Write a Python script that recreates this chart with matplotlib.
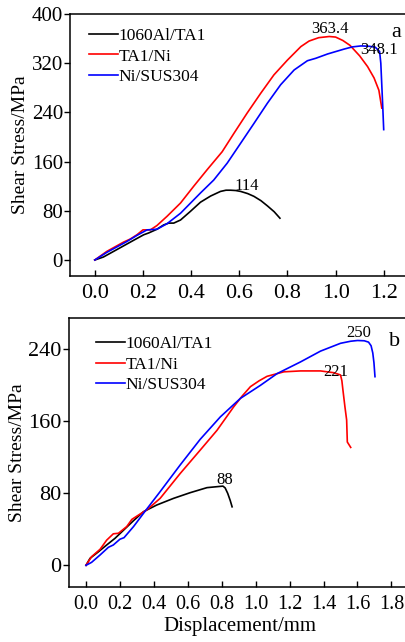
import matplotlib
matplotlib.use("Agg")
import matplotlib.pyplot as plt

plt.rcParams['font.family'] = ['Liberation Serif', 'DejaVu Serif']

labels = ["1060Al/TA1", "TA1/Ni", "Ni/SUS304"]
colors = ["black", "red", "blue"]

# Panel a data (displacement mm, shear stress MPa)
a_al_x = [0, 0.036, 0.092, 0.161, 0.203, 0.224, 0.258, 0.286, 0.307, 0.328, 0.356, 0.397, 0.439, 0.481, 0.522, 0.545, 0.564, 0.585, 0.606, 0.635, 0.661, 0.69, 0.717, 0.745, 0.769]
a_al_y = [0, 4.9, 17, 32, 41, 44, 50, 57, 60, 60, 65, 79, 94, 104, 111.5, 113.5, 113.5, 113, 111.5, 108, 103.5, 96.5, 88, 78.5, 68]
a_ni_x = [0, 0.05, 0.119, 0.147, 0.175, 0.2, 0.231, 0.258, 0.3, 0.356, 0.411, 0.467, 0.529, 0.578, 0.633, 0.689, 0.744, 0.8, 0.856, 0.89, 0.93, 0.974, 1.0, 1.03, 1.06, 1.1, 1.133, 1.16, 1.18, 1.192]
a_ni_y = [0, 14, 29, 34, 41, 49, 49, 56, 71, 92.6, 120, 147, 176, 206, 239, 271, 301, 325, 347, 356, 361.5, 363.4, 362.5, 357, 349, 332, 314.5, 296, 276, 247]
a_ss_x = [0, 0.05, 0.133, 0.175, 0.217, 0.258, 0.3, 0.356, 0.439, 0.494, 0.55, 0.606, 0.661, 0.717, 0.772, 0.828, 0.883, 0.918, 0.967, 1.036, 1.07, 1.106, 1.14, 1.165, 1.183, 1.188, 1.192, 1.196, 1.2]
a_ss_y = [0, 12.4, 30, 40, 49, 50, 59, 76, 109, 130, 157.5, 190, 222, 255, 285, 309, 324, 328, 335, 343, 346.5, 348.1, 347.5, 346, 339, 320, 285, 250, 212]

# Panel b data
b_al_x = [0, 0.024, 0.073, 0.122, 0.171, 0.221, 0.28, 0.339, 0.417, 0.516, 0.614, 0.713, 0.807, 0.82, 0.835, 0.85, 0.861]
b_al_y = [0, 7.8, 15, 22.6, 30, 39, 49.6, 59.6, 67, 74.4, 80.7, 86.3, 88, 86, 80, 72, 65]
b_ni_x = [0, 0.033, 0.083, 0.122, 0.161, 0.191, 0.24, 0.27, 0.319, 0.358, 0.437, 0.555, 0.673, 0.772, 0.87, 0.92, 0.969, 1.02, 1.067, 1.166, 1.264, 1.382, 1.461, 1.5, 1.508, 1.514, 1.526, 1.536, 1.54, 1.56]
b_ni_y = [0, 9.6, 17.8, 28, 35, 35.6, 43, 51, 57, 61.5, 74.4, 102, 128, 150, 176, 188, 198.5, 205, 210, 215, 216, 216, 214, 211.5, 205, 195, 176, 161.5, 137, 131]
b_ss_x = [0, 0.033, 0.083, 0.132, 0.161, 0.2, 0.224, 0.28, 0.339, 0.437, 0.555, 0.673, 0.792, 0.91, 1.028, 1.126, 1.264, 1.382, 1.5, 1.56, 1.6, 1.64, 1.665, 1.68, 1.69, 1.697, 1.703]
b_ss_y = [0, 3.3, 11.5, 20, 22.6, 29, 30.7, 43, 57.8, 81.9, 111.5, 140, 165, 185.5, 200, 213, 226, 238, 246.7, 249, 249.8, 249.5, 248, 244, 236, 225, 209.6]

a_xticks = [0.0, 0.2, 0.4, 0.6, 0.8, 1.0, 1.2]
a_yticks = [0, 80, 160, 240, 320, 400]
b_xticks = [0.0, 0.2, 0.4, 0.6, 0.8, 1.0, 1.2, 1.4, 1.6, 1.8]
b_yticks = [0, 80, 160, 240]

fig = plt.figure(figsize=(4.05, 6.42), dpi=100)
axa = fig.add_axes([0.1728, 0.5701, 0.84, 0.4081])
axb = fig.add_axes([0.1696, 0.0861, 0.843, 0.418])


def style(ax, xt, yt, xfs, yfs):
    for s in ax.spines.values():
        s.set_linewidth(1.1)
    ax.spines['right'].set_visible(False)
    ax.set_xticks(xt)
    ax.set_xticklabels([f"{v:.1f}" for v in xt])
    ax.set_yticks(yt)
    ax.tick_params(axis='x', direction='in', length=4, width=1, labelsize=xfs, pad=6, top=False)
    ax.tick_params(axis='y', direction='out', length=4, width=1, labelsize=yfs, pad=1)
    ax.set_ylabel("Shear Stress/MPa", fontsize=14, labelpad=2)


for ax, series, anchor in ((axa, [(a_al_x, a_al_y), (a_ni_x, a_ni_y), (a_ss_x, a_ss_y)], (0.016, 1.0)),
                           (axb, [(b_al_x, b_al_y), (b_ni_x, b_ni_y), (b_ss_x, b_ss_y)], (0.04, 0.985))):
    for (x, y), c, l in zip(series, colors, labels):
        ax.plot(x, y, color=c, lw=1.2, label=l)
    ax.legend(loc='upper left', frameon=False, fontsize=12.5, handlelength=1.65,
              handletextpad=0.05, labelspacing=0.25, borderaxespad=0.4,
              bbox_to_anchor=anchor)

axa.set_xlim(-0.103, 1.31)
axa.set_ylim(-26, 400)
style(axa, a_xticks, a_yticks, 16, 15)
axb.set_xlim(-0.102, 1.91)
axb.set_ylim(-23.8, 274.4)
style(axb, b_xticks, b_yticks, 14.5, 16)
axb.set_xlabel("Displacement/mm", fontsize=15, labelpad=2)

axa.text(0.975, 363, "363.4", fontsize=12, ha='center', va='bottom')
axa.text(1.18, 342, "348.1", fontsize=12, ha='center', va='center')
axa.text(0.63, 107, "114", fontsize=12, ha='center', va='bottom')
axa.text(1.25, 370, "a", fontsize=16, ha='center', va='center')

axb.text(1.605, 249, "250", fontsize=12, ha='center', va='bottom')
axb.text(1.47, 215, "221", fontsize=12, ha='center', va='center')
axb.text(0.815, 86, "88", fontsize=12, ha='center', va='bottom')
axb.text(1.82, 249, "b", fontsize=16, ha='center', va='center')

fig.savefig("out.png", dpi=100)
